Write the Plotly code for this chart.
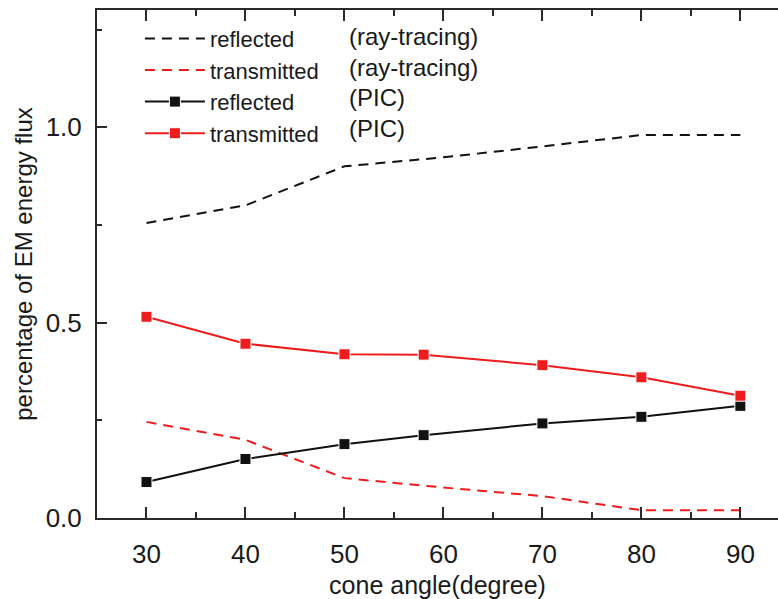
import plotly.graph_objects as go

# ---- data ----
angle_ray = [30, 40, 50, 60, 70, 80, 90]
reflected_ray = [0.755, 0.80, 0.90, 0.923, 0.951, 0.98, 0.98]
transmitted_ray = [0.246, 0.20, 0.102, 0.078, 0.056, 0.02, 0.02]

angle_pic = [30, 40, 50, 58, 70, 80, 90]
reflected_pic = [0.092, 0.151, 0.189, 0.212, 0.242, 0.259, 0.287]
transmitted_pic = [0.515, 0.446, 0.419, 0.418, 0.391, 0.360, 0.313]

x_ticks = [30, 40, 50, 60, 70, 80, 90]
y_ticks = [0.0, 0.5, 1.0]
method_labels = ["(ray-tracing)", "(ray-tracing)", "(PIC)", "(PIC)"]

FONT = "Liberation Sans, Arial, sans-serif"
RED = "#ee1c1c"
BLACK = "#111111"
AX = "#2a2a2a"
TXT = "#1a1a1a"

fig = go.Figure()
fig.add_trace(go.Scatter(x=angle_ray, y=reflected_ray, mode="lines", name="reflected",
                         line=dict(color=BLACK, width=2, dash="10px,7px")))
fig.add_trace(go.Scatter(x=angle_ray, y=transmitted_ray, mode="lines", name="transmitted",
                         line=dict(color=RED, width=2, dash="10px,7px")))
fig.add_trace(go.Scatter(x=angle_pic, y=reflected_pic, mode="lines+markers", name="reflected",
                         line=dict(color=BLACK, width=2),
                         marker=dict(symbol="square", size=11, color=BLACK,
                                     line=dict(color="white", width=1))))
fig.add_trace(go.Scatter(x=angle_pic, y=transmitted_pic, mode="lines+markers", name="transmitted",
                         line=dict(color=RED, width=2),
                         marker=dict(symbol="square", size=11, color=RED,
                                     line=dict(color="white", width=1))))

# second legend column
row_y = [0.947, 0.886, 0.827, 0.766]
for lab, yy in zip(method_labels, row_y):
    fig.add_annotation(x=0.367, y=yy, xref="paper", yref="paper", text=lab,
                       showarrow=False, xanchor="left", yanchor="middle",
                       font=dict(family=FONT, size=24, color=TXT))

fig.update_layout(
    width=778, height=599,
    margin=dict(l=97, r=0, t=10, b=81),
    paper_bgcolor="white", plot_bgcolor="white",
    font=dict(family=FONT, color=TXT),
    showlegend=True,
    legend=dict(x=0.063, y=0.985, xanchor="left", yanchor="top",
                bgcolor="rgba(0,0,0,0)", font=dict(family=FONT, size=22, color=TXT),
                itemwidth=60, tracegroupgap=0),
    xaxis=dict(range=[25, 93.8], tickvals=x_ticks, ticks="inside", ticklen=11,
               tickwidth=2, tickcolor=AX, showline=True, linecolor=AX, linewidth=2,
               mirror="ticks", showgrid=False, zeroline=False, automargin=False,
               tickfont=dict(family=FONT, size=26, color=TXT),
               ticklabelstandoff=12,
               minor=dict(dtick=5, tick0=25, ticks="inside", ticklen=6, tickwidth=2,
                          tickcolor=AX, showgrid=False),
               title=dict(text="cone angle(degree)", standoff=9,
                          font=dict(family=FONT, size=25, color=TXT))),
    yaxis=dict(range=[0, 1.3], tickvals=y_ticks, tickformat=".1f", ticks="inside",
               ticklen=10, tickwidth=2, tickcolor=AX, showline=True, linecolor=AX,
               linewidth=2, mirror=False, showgrid=False, zeroline=False, automargin=False,
               tickfont=dict(family=FONT, size=26, color=TXT),
               ticklabelstandoff=8,
               minor=dict(dtick=0.25, tick0=0, ticks="inside", ticklen=5, tickwidth=2,
                          tickcolor=AX, showgrid=False),
               title=dict(text="percentage of EM energy flux", standoff=6,
                          font=dict(family=FONT, size=24, color=TXT))),
)

fig.write_html("out.html")
